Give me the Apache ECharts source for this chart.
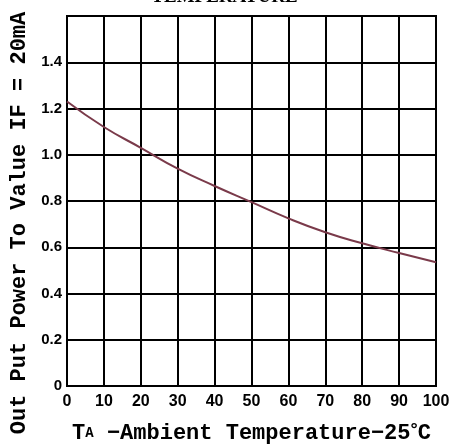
<!DOCTYPE html>
<html><head><meta charset="utf-8">
<script src="https://cdn.jsdelivr.net/npm/echarts@6/dist/echarts.min.js"></script>
<style>html,body{margin:0;padding:0;background:#fff}#c{width:449px;height:446px}</style>
</head><body><div id="c"></div>
<script>
var temps = [0,10,20,30,40,50,60,70,80,90,100];
var power = [1.23,1.12,1.03,0.94,0.865,0.795,0.725,0.665,0.617,0.575,0.535];
var yTicks = [0,0.2,0.4,0.6,0.8,1.0,1.2,1.4];
var chart = echarts.init(document.getElementById('c'));
var data = temps.map(function(t,i){return [t,power[i]];});
var nameFont = {fontFamily:'Liberation Mono',fontWeight:'bold',fontSize:22,color:'#000'};
chart.setOption({
  animation:false,
  backgroundColor:'#fff',
  title:{text:'TEMPERATURE',left:'center',top:-17,textStyle:{fontFamily:'Liberation Serif',fontWeight:'bold',fontSize:19,color:'#000'}},
  grid:{left:67,right:13,top:16,bottom:60,show:true,borderColor:'#000',borderWidth:2,outerBoundsMode:'none',containLabel:false},
  xAxis:{type:'value',min:0,max:100,interval:10,
    axisLine:{show:true,lineStyle:{color:'#000',width:2}},
    axisTick:{show:false},
    splitLine:{show:true,lineStyle:{color:'#000',width:2}},
    axisLabel:{color:'#000',fontFamily:'Liberation Sans',fontWeight:'bold',fontSize:16,margin:8},
    name:'{t|T}{a|A}{t| −Ambient Temperature−25}{d|°}{t|C}',nameLocation:'middle',nameGap:35,
    nameTextStyle:{rich:{t:nameFont,a:{fontFamily:'Liberation Mono',fontWeight:'bold',fontSize:14,color:'#000'},d:{fontFamily:'Liberation Sans',fontWeight:'bold',fontSize:18,color:'#000',verticalAlign:'top',padding:[0,0,6,0]}}}
  },
  yAxis:{type:'value',min:0,max:1.6,interval:0.2,
    axisLine:{show:true,lineStyle:{color:'#000',width:2}},
    axisTick:{show:false},
    splitLine:{show:true,lineStyle:{color:'#000',width:2}},
    axisLabel:{color:'#000',fontFamily:'Liberation Sans',fontWeight:'bold',fontSize:15,margin:5,
      formatter:function(v){
        var f = yTicks.filter(function(t){return Math.abs(t-v)<1e-6;});
        if(!f.length) return '';
        return v===0?'0':v.toFixed(1);
      }},
    name:'Out Put Power To Value IF = 20mA',nameLocation:'middle',nameGap:36,
    nameTextStyle:Object.assign({padding:[0,44,0,0]},nameFont)
  },
  series:[{type:'line',data:data,smooth:true,symbol:'none',lineStyle:{color:'#7a3a4a',width:2}}]
});
</script></body></html>
